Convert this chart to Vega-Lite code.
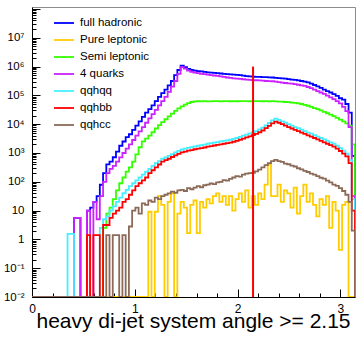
{
  "$schema": "https://vega.github.io/schema/vega-lite/v6.json",
  "width": 323,
  "height": 290,
  "autosize": {"type": "none"},
  "padding": {"left": 32, "top": 7, "right": 2, "bottom": 40},
  "background": "white",
  "config": {
    "view": {"stroke": "#8c8c8c", "strokeWidth": 1},
    "font": "Liberation Sans",
    "axis": {"grid": false, "labelFont": "Liberation Sans", "titleFont": "Liberation Sans", "labelColor": "black", "titleColor": "black"},
    "legend": {"labelFont": "Liberation Sans", "labelColor": "black"}
  },
  "data": {
    "values": [
      {"x": 0, "full hadronic": 0.01, "Pure leptonic": 0.01, "Semi leptonic": 0.01, "4 quarks": 0.01, "qqhqq": 0.01, "qqhbb": 0.01, "qqhcc": 0.01},
      {"x": 0.0314, "full hadronic": 0.01, "Pure leptonic": 0.01, "Semi leptonic": 0.01, "4 quarks": 0.01, "qqhqq": 0.01, "qqhbb": 0.01, "qqhcc": 0.01},
      {"x": 0.0628, "full hadronic": 0.01, "Pure leptonic": 0.01, "Semi leptonic": 0.01, "4 quarks": 0.01, "qqhqq": 0.01, "qqhbb": 0.01, "qqhcc": 0.01},
      {"x": 0.0942, "full hadronic": 0.01, "Pure leptonic": 0.01, "Semi leptonic": 0.01, "4 quarks": 0.01, "qqhqq": 0.01, "qqhbb": 0.01, "qqhcc": 0.01},
      {"x": 0.1257, "full hadronic": 0.01, "Pure leptonic": 0.01, "Semi leptonic": 0.01, "4 quarks": 0.01, "qqhqq": 0.01, "qqhbb": 0.01, "qqhcc": 0.01},
      {"x": 0.1571, "full hadronic": 0.01, "Pure leptonic": 0.01, "Semi leptonic": 0.01, "4 quarks": 0.01, "qqhqq": 0.01, "qqhbb": 0.01, "qqhcc": 0.01},
      {"x": 0.1885, "full hadronic": 0.01, "Pure leptonic": 0.01, "Semi leptonic": 0.01, "4 quarks": 0.01, "qqhqq": 0.01, "qqhbb": 0.01, "qqhcc": 0.01},
      {"x": 0.2199, "full hadronic": 0.01, "Pure leptonic": 0.01, "Semi leptonic": 0.01, "4 quarks": 0.01, "qqhqq": 0.01, "qqhbb": 0.01, "qqhcc": 0.01},
      {"x": 0.2513, "full hadronic": 0.01, "Pure leptonic": 0.01, "Semi leptonic": 0.01, "4 quarks": 0.01, "qqhqq": 0.01, "qqhbb": 0.01, "qqhcc": 0.01},
      {"x": 0.2827, "full hadronic": 0.01, "Pure leptonic": 0.01, "Semi leptonic": 0.01, "4 quarks": 0.01, "qqhqq": 0.01, "qqhbb": 0.01, "qqhcc": 0.01},
      {"x": 0.3142, "full hadronic": 0.01, "Pure leptonic": 0.01, "Semi leptonic": 0.01, "4 quarks": 0.01, "qqhqq": 0.01, "qqhbb": 0.01, "qqhcc": 0.01},
      {"x": 0.3456, "full hadronic": 0.01, "Pure leptonic": 0.01, "Semi leptonic": 0.01, "4 quarks": 0.01, "qqhqq": 1.55, "qqhbb": 0.01, "qqhcc": 0.01},
      {"x": 0.377, "full hadronic": 0.01, "Pure leptonic": 0.01, "Semi leptonic": 0.01, "4 quarks": 0.01, "qqhqq": 1.55, "qqhbb": 0.01, "qqhcc": 0.01},
      {"x": 0.4084, "full hadronic": 5.6, "Pure leptonic": 0.01, "Semi leptonic": 0.01, "4 quarks": 5.6, "qqhqq": 0.01, "qqhbb": 0.01, "qqhcc": 0.01},
      {"x": 0.4398, "full hadronic": 5.6, "Pure leptonic": 0.01, "Semi leptonic": 0.01, "4 quarks": 5.6, "qqhqq": 0.01, "qqhbb": 0.01, "qqhcc": 0.01},
      {"x": 0.4712, "full hadronic": 0.01, "Pure leptonic": 0.01, "Semi leptonic": 0.01, "4 quarks": 0.01, "qqhqq": 0.01, "qqhbb": 0.01, "qqhcc": 0.01},
      {"x": 0.5027, "full hadronic": 0.01, "Pure leptonic": 0.01, "Semi leptonic": 0.01, "4 quarks": 0.01, "qqhqq": 0.01, "qqhbb": 0.01, "qqhcc": 0.01},
      {"x": 0.5341, "full hadronic": 10, "Pure leptonic": 0.01, "Semi leptonic": 0.01, "4 quarks": 10, "qqhqq": 0.01, "qqhbb": 1.41, "qqhcc": 0.01},
      {"x": 0.5655, "full hadronic": 12.6, "Pure leptonic": 0.01, "Semi leptonic": 0.01, "4 quarks": 0.01, "qqhqq": 0.01, "qqhbb": 0.01, "qqhcc": 0.01},
      {"x": 0.5969, "full hadronic": 20, "Pure leptonic": 0.01, "Semi leptonic": 0.01, "4 quarks": 20, "qqhqq": 0.01, "qqhbb": 1.41, "qqhcc": 0.01},
      {"x": 0.6283, "full hadronic": 32, "Pure leptonic": 0.01, "Semi leptonic": 0.01, "4 quarks": 5, "qqhqq": 0.01, "qqhbb": 1.41, "qqhcc": 0.01},
      {"x": 0.6597, "full hadronic": 79, "Pure leptonic": 0.01, "Semi leptonic": 0.01, "4 quarks": 32, "qqhqq": 2.5, "qqhbb": 0.01, "qqhcc": 0.01},
      {"x": 0.6912, "full hadronic": 200, "Pure leptonic": 0.01, "Semi leptonic": 2.5, "4 quarks": 100, "qqhqq": 5, "qqhbb": 3.16, "qqhcc": 0.01},
      {"x": 0.7226, "full hadronic": 400, "Pure leptonic": 0.01, "Semi leptonic": 7.9, "4 quarks": 200, "qqhqq": 6.3, "qqhbb": 3.16, "qqhcc": 1.41},
      {"x": 0.754, "full hadronic": 500, "Pure leptonic": 0.01, "Semi leptonic": 12.6, "4 quarks": 282, "qqhqq": 10, "qqhbb": 5.6, "qqhcc": 0.01},
      {"x": 0.7854, "full hadronic": 710, "Pure leptonic": 0.01, "Semi leptonic": 25, "4 quarks": 355, "qqhqq": 14, "qqhbb": 7.9, "qqhcc": 1.41},
      {"x": 0.8168, "full hadronic": 1120, "Pure leptonic": 0.01, "Semi leptonic": 50, "4 quarks": 501, "qqhqq": 20, "qqhbb": 10, "qqhcc": 1.41},
      {"x": 0.8482, "full hadronic": 1780, "Pure leptonic": 0.01, "Semi leptonic": 89, "4 quarks": 708, "qqhqq": 28, "qqhbb": 12.6, "qqhcc": 0.01},
      {"x": 0.8796, "full hadronic": 2500, "Pure leptonic": 0.01, "Semi leptonic": 141, "4 quarks": 1000, "qqhqq": 40, "qqhbb": 20, "qqhcc": 1.41},
      {"x": 0.9111, "full hadronic": 3550, "Pure leptonic": 0.01, "Semi leptonic": 224, "4 quarks": 1410, "qqhqq": 52, "qqhbb": 25, "qqhcc": 0.01},
      {"x": 0.9425, "full hadronic": 4470, "Pure leptonic": 0.01, "Semi leptonic": 316, "4 quarks": 2000, "qqhqq": 71, "qqhbb": 35.5, "qqhcc": 2.8},
      {"x": 0.9739, "full hadronic": 6300, "Pure leptonic": 0.01, "Semi leptonic": 501, "4 quarks": 2820, "qqhqq": 89, "qqhbb": 50, "qqhcc": 10},
      {"x": 1.0053, "full hadronic": 8900, "Pure leptonic": 0.01, "Semi leptonic": 891, "4 quarks": 3980, "qqhqq": 112, "qqhbb": 71, "qqhcc": 12.6},
      {"x": 1.0367, "full hadronic": 12600, "Pure leptonic": 0.01, "Semi leptonic": 1580, "4 quarks": 5620, "qqhqq": 141, "qqhbb": 89, "qqhcc": 7.9},
      {"x": 1.0681, "full hadronic": 17800, "Pure leptonic": 0.01, "Semi leptonic": 2510, "4 quarks": 7940, "qqhqq": 178, "qqhbb": 112, "qqhcc": 17.8},
      {"x": 1.0996, "full hadronic": 25100, "Pure leptonic": 0.01, "Semi leptonic": 3160, "4 quarks": 11200, "qqhqq": 224, "qqhbb": 141, "qqhcc": 15.8},
      {"x": 1.131, "full hadronic": 33100, "Pure leptonic": 9.1, "Semi leptonic": 3980, "4 quarks": 15800, "qqhqq": 282, "qqhbb": 200, "qqhcc": 22.4},
      {"x": 1.1624, "full hadronic": 44700, "Pure leptonic": 0.01, "Semi leptonic": 5250, "4 quarks": 22400, "qqhqq": 355, "qqhbb": 251, "qqhcc": 20},
      {"x": 1.1938, "full hadronic": 63100, "Pure leptonic": 9.1, "Semi leptonic": 7080, "4 quarks": 31600, "qqhqq": 447, "qqhbb": 316, "qqhcc": 28.2},
      {"x": 1.2252, "full hadronic": 89100, "Pure leptonic": 31.6, "Semi leptonic": 9330, "4 quarks": 44700, "qqhqq": 525, "qqhbb": 398, "qqhcc": 25.1},
      {"x": 1.2566, "full hadronic": 120000, "Pure leptonic": 15.8, "Semi leptonic": 11700, "4 quarks": 63100, "qqhqq": 631, "qqhbb": 501, "qqhcc": 31.6},
      {"x": 1.2881, "full hadronic": 158000, "Pure leptonic": 0.01, "Semi leptonic": 14800, "4 quarks": 89100, "qqhqq": 708, "qqhbb": 562, "qqhcc": 35.5},
      {"x": 1.3195, "full hadronic": 224000, "Pure leptonic": 20, "Semi leptonic": 18600, "4 quarks": 132000, "qqhqq": 794, "qqhbb": 631, "qqhcc": 39.8},
      {"x": 1.3509, "full hadronic": 316000, "Pure leptonic": 39.8, "Semi leptonic": 23400, "4 quarks": 200000, "qqhqq": 912, "qqhbb": 724, "qqhcc": 45.7},
      {"x": 1.3823, "full hadronic": 501000, "Pure leptonic": 0.01, "Semi leptonic": 28800, "4 quarks": 316000, "qqhqq": 1050, "qqhbb": 832, "qqhcc": 41.7},
      {"x": 1.4137, "full hadronic": 759000, "Pure leptonic": 7.9, "Semi leptonic": 35500, "4 quarks": 562000, "qqhqq": 1180, "qqhbb": 933, "qqhcc": 50.1},
      {"x": 1.4451, "full hadronic": 1070000, "Pure leptonic": 20, "Semi leptonic": 41700, "4 quarks": 955000, "qqhqq": 1320, "qqhbb": 1050, "qqhcc": 52.5},
      {"x": 1.4765, "full hadronic": 955000, "Pure leptonic": 12.6, "Semi leptonic": 47900, "4 quarks": 851000, "qqhqq": 1410, "qqhbb": 1120, "qqhcc": 47.9},
      {"x": 1.508, "full hadronic": 832000, "Pure leptonic": 1.66, "Semi leptonic": 53700, "4 quarks": 724000, "qqhqq": 1510, "qqhbb": 1200, "qqhcc": 60.3},
      {"x": 1.5394, "full hadronic": 759000, "Pure leptonic": 15.8, "Semi leptonic": 58900, "4 quarks": 661000, "qqhqq": 1590, "qqhbb": 1260, "qqhcc": 55},
      {"x": 1.5708, "full hadronic": 724000, "Pure leptonic": 22.4, "Semi leptonic": 61700, "4 quarks": 617000, "qqhqq": 1700, "qqhbb": 1350, "qqhcc": 63.1},
      {"x": 1.6022, "full hadronic": 700000, "Pure leptonic": 1.66, "Semi leptonic": 62500, "4 quarks": 589000, "qqhqq": 1780, "qqhbb": 1410, "qqhcc": 70.8},
      {"x": 1.6336, "full hadronic": 676000, "Pure leptonic": 20, "Semi leptonic": 62000, "4 quarks": 562000, "qqhqq": 1860, "qqhbb": 1480, "qqhcc": 64.6},
      {"x": 1.665, "full hadronic": 653000, "Pure leptonic": 12.6, "Semi leptonic": 63000, "4 quarks": 543000, "qqhqq": 1950, "qqhbb": 1550, "qqhcc": 75.9},
      {"x": 1.6965, "full hadronic": 631000, "Pure leptonic": 25.1, "Semi leptonic": 62300, "4 quarks": 525000, "qqhqq": 2090, "qqhbb": 1660, "qqhcc": 79.4},
      {"x": 1.7279, "full hadronic": 617000, "Pure leptonic": 17.8, "Semi leptonic": 61800, "4 quarks": 507000, "qqhqq": 2190, "qqhbb": 1740, "qqhcc": 87.1},
      {"x": 1.7593, "full hadronic": 603000, "Pure leptonic": 31.6, "Semi leptonic": 62700, "4 quarks": 490000, "qqhqq": 2290, "qqhbb": 1820, "qqhcc": 83.2},
      {"x": 1.7907, "full hadronic": 589000, "Pure leptonic": 39.8, "Semi leptonic": 63100, "4 quarks": 473000, "qqhqq": 2400, "qqhbb": 1910, "qqhcc": 95.5},
      {"x": 1.8221, "full hadronic": 575000, "Pure leptonic": 20, "Semi leptonic": 62200, "4 quarks": 457000, "qqhqq": 2520, "qqhbb": 2000, "qqhcc": 100},
      {"x": 1.8535, "full hadronic": 562000, "Pure leptonic": 31.6, "Semi leptonic": 62800, "4 quarks": 437000, "qqhqq": 2630, "qqhbb": 2090, "qqhcc": 115},
      {"x": 1.885, "full hadronic": 550000, "Pure leptonic": 15.8, "Semi leptonic": 63300, "4 quarks": 417000, "qqhqq": 2760, "qqhbb": 2190, "qqhcc": 110},
      {"x": 1.9164, "full hadronic": 537000, "Pure leptonic": 31.6, "Semi leptonic": 62600, "4 quarks": 403000, "qqhqq": 2880, "qqhbb": 2290, "qqhcc": 126},
      {"x": 1.9478, "full hadronic": 525000, "Pure leptonic": 10, "Semi leptonic": 63000, "4 quarks": 389000, "qqhqq": 3090, "qqhbb": 2450, "qqhcc": 141},
      {"x": 1.9792, "full hadronic": 513000, "Pure leptonic": 25.1, "Semi leptonic": 62400, "4 quarks": 380000, "qqhqq": 3310, "qqhbb": 2630, "qqhcc": 158},
      {"x": 2.0106, "full hadronic": 501000, "Pure leptonic": 39.8, "Semi leptonic": 63500, "4 quarks": 372000, "qqhqq": 3630, "qqhbb": 2880, "qqhcc": 151},
      {"x": 2.042, "full hadronic": 484000, "Pure leptonic": 20, "Semi leptonic": 62900, "4 quarks": 363000, "qqhqq": 3980, "qqhbb": 3160, "qqhcc": 178},
      {"x": 2.0735, "full hadronic": 468000, "Pure leptonic": 50.1, "Semi leptonic": 63200, "4 quarks": 355000, "qqhqq": 4370, "qqhbb": 3470, "qqhcc": 191},
      {"x": 2.1049, "full hadronic": 457000, "Pure leptonic": 12.6, "Semi leptonic": 62600, "4 quarks": 347000, "qqhqq": 4790, "qqhbb": 3800, "qqhcc": 200},
      {"x": 2.1363, "full hadronic": 447000, "Pure leptonic": 31.6, "Semi leptonic": 63400, "4 quarks": 339000, "qqhqq": 5250, "qqhbb": 4170, "qqhcc": 204},
      {"x": 2.1677, "full hadronic": 442000, "Pure leptonic": 15.8, "Semi leptonic": 62800, "4 quarks": 335000, "qqhqq": 5750, "qqhbb": 4570, "qqhcc": 229},
      {"x": 2.1991, "full hadronic": 437000, "Pure leptonic": 39.8, "Semi leptonic": 63000, "4 quarks": 331000, "qqhqq": 6610, "qqhbb": 5250, "qqhcc": 263},
      {"x": 2.2305, "full hadronic": 432000, "Pure leptonic": 25.1, "Semi leptonic": 62500, "4 quarks": 324000, "qqhqq": 7590, "qqhbb": 6030, "qqhcc": 316},
      {"x": 2.2619, "full hadronic": 427000, "Pure leptonic": 79.4, "Semi leptonic": 62900, "4 quarks": 316000, "qqhqq": 9120, "qqhbb": 7240, "qqhcc": 380},
      {"x": 2.2934, "full hadronic": 422000, "Pure leptonic": 398, "Semi leptonic": 62300, "4 quarks": 313000, "qqhqq": 11000, "qqhbb": 8710, "qqhcc": 447},
      {"x": 2.3248, "full hadronic": 417000, "Pure leptonic": 31.6, "Semi leptonic": 62700, "4 quarks": 309000, "qqhqq": 13500, "qqhbb": 10700, "qqhcc": 525},
      {"x": 2.3562, "full hadronic": 407000, "Pure leptonic": 31.6, "Semi leptonic": 62000, "4 quarks": 299000, "qqhqq": 15500, "qqhbb": 12300, "qqhcc": 575},
      {"x": 2.3876, "full hadronic": 398000, "Pure leptonic": 79.4, "Semi leptonic": 61000, "4 quarks": 288000, "qqhqq": 14100, "qqhbb": 11200, "qqhcc": 525},
      {"x": 2.419, "full hadronic": 389000, "Pure leptonic": 20, "Semi leptonic": 60300, "4 quarks": 279000, "qqhqq": 12600, "qqhbb": 10000, "qqhcc": 490},
      {"x": 2.4504, "full hadronic": 380000, "Pure leptonic": 50.1, "Semi leptonic": 58900, "4 quarks": 269000, "qqhqq": 11200, "qqhbb": 8910, "qqhcc": 427},
      {"x": 2.4819, "full hadronic": 367000, "Pure leptonic": 39.8, "Semi leptonic": 58200, "4 quarks": 263000, "qqhqq": 10000, "qqhbb": 7940, "qqhcc": 407},
      {"x": 2.5133, "full hadronic": 355000, "Pure leptonic": 12.6, "Semi leptonic": 56200, "4 quarks": 257000, "qqhqq": 8910, "qqhbb": 7080, "qqhcc": 363},
      {"x": 2.5447, "full hadronic": 343000, "Pure leptonic": 63.1, "Semi leptonic": 55000, "4 quarks": 245000, "qqhqq": 7940, "qqhbb": 6310, "qqhcc": 339},
      {"x": 2.5761, "full hadronic": 331000, "Pure leptonic": 7.9, "Semi leptonic": 52500, "4 quarks": 234000, "qqhqq": 7240, "qqhbb": 5750, "qqhcc": 295},
      {"x": 2.6075, "full hadronic": 316000, "Pure leptonic": 31.6, "Semi leptonic": 50100, "4 quarks": 224000, "qqhqq": 6460, "qqhbb": 5130, "qqhcc": 269},
      {"x": 2.6389, "full hadronic": 302000, "Pure leptonic": 79.4, "Semi leptonic": 46800, "4 quarks": 214000, "qqhqq": 5750, "qqhbb": 4570, "qqhcc": 240},
      {"x": 2.6704, "full hadronic": 282000, "Pure leptonic": 20, "Semi leptonic": 43700, "4 quarks": 195000, "qqhqq": 5130, "qqhbb": 4070, "qqhcc": 219},
      {"x": 2.7018, "full hadronic": 257000, "Pure leptonic": 39.8, "Semi leptonic": 39800, "4 quarks": 178000, "qqhqq": 4680, "qqhbb": 3720, "qqhcc": 191},
      {"x": 2.7332, "full hadronic": 229000, "Pure leptonic": 15.8, "Semi leptonic": 36300, "4 quarks": 158000, "qqhqq": 4170, "qqhbb": 3310, "qqhcc": 178},
      {"x": 2.7646, "full hadronic": 204000, "Pure leptonic": 6.3, "Semi leptonic": 33100, "4 quarks": 141000, "qqhqq": 3720, "qqhbb": 2950, "qqhcc": 158},
      {"x": 2.796, "full hadronic": 182000, "Pure leptonic": 25.1, "Semi leptonic": 30200, "4 quarks": 126000, "qqhqq": 3310, "qqhbb": 2630, "qqhcc": 138},
      {"x": 2.8274, "full hadronic": 158000, "Pure leptonic": 15.8, "Semi leptonic": 26900, "4 quarks": 112000, "qqhqq": 2950, "qqhbb": 2340, "qqhcc": 129},
      {"x": 2.8588, "full hadronic": 141000, "Pure leptonic": 31.6, "Semi leptonic": 24000, "4 quarks": 97700, "qqhqq": 2630, "qqhbb": 2090, "qqhcc": 110},
      {"x": 2.8903, "full hadronic": 126000, "Pure leptonic": 2.5, "Semi leptonic": 21400, "4 quarks": 85100, "qqhqq": 2340, "qqhbb": 1860, "qqhcc": 95.5},
      {"x": 2.9217, "full hadronic": 110000, "Pure leptonic": 20, "Semi leptonic": 19100, "4 quarks": 74100, "qqhqq": 2090, "qqhbb": 1660, "qqhcc": 79.4},
      {"x": 2.9531, "full hadronic": 95500, "Pure leptonic": 10, "Semi leptonic": 16600, "4 quarks": 63100, "qqhqq": 1780, "qqhbb": 1410, "qqhcc": 72.4},
      {"x": 2.9845, "full hadronic": 79400, "Pure leptonic": 0.43, "Semi leptonic": 14500, "4 quarks": 52500, "qqhqq": 1470, "qqhbb": 1170, "qqhcc": 60.3},
      {"x": 3.0159, "full hadronic": 70800, "Pure leptonic": 15.8, "Semi leptonic": 12600, "4 quarks": 39800, "qqhqq": 1200, "qqhbb": 955, "qqhcc": 47.9},
      {"x": 3.0473, "full hadronic": 50100, "Pure leptonic": 20, "Semi leptonic": 10700, "4 quarks": 28200, "qqhqq": 955, "qqhbb": 759, "qqhcc": 35.5},
      {"x": 3.0788, "full hadronic": 25100, "Pure leptonic": 0.01, "Semi leptonic": 8910, "4 quarks": 7940, "qqhqq": 562, "qqhbb": 447, "qqhcc": 20},
      {"x": 3.1102, "full hadronic": 794, "Pure leptonic": 0.01, "Semi leptonic": 2000, "4 quarks": 32, "qqhqq": 25, "qqhbb": 10, "qqhcc": 2},
      {"x": 3.1416, "full hadronic": 0.01, "Pure leptonic": 0.01, "Semi leptonic": 0.01, "4 quarks": 0.01, "qqhqq": 0.01, "qqhbb": 0.01, "qqhcc": 0.01}
    ]
  },
  "resolve": {"axis": {"x": "independent", "y": "independent"}},
  "layer": [
    {
      "transform": [
        {"fold": ["full hadronic", "Pure leptonic", "Semi leptonic", "4 quarks"], "as": ["series", "n"]}
      ],
      "mark": {"type": "line", "interpolate": "step-after", "clip": true},
      "encoding": {
        "x": {
          "field": "x", "type": "quantitative",
          "scale": {"domain": [0, 3.1416], "nice": false, "zero": false},
          "axis": {
            "orient": "bottom", "values": [0, 1, 2, 3], "format": "d",
            "ticks": false, "domain": true, "domainColor": "black",
            "labelFontSize": 12, "labelPadding": 6, "labelFlush": false,
            "title": "heavy di-jet system angle >= 2.15", "titleFontSize": 21, "titleFontWeight": "normal",
            "titleAnchor": "end", "titleAlign": "right", "titleX": 318, "titleY": 30, "titleBaseline": "alphabetic"
          }
        },
        "y": {
          "field": "n", "type": "quantitative",
          "scale": {"type": "log", "domain": [0.01, 117000000], "nice": false},
          "axis": {
            "orient": "left", "values": [0.01, 0.1, 1, 10, 100, 1000, 10000, 100000, 1000000, 10000000],
            "labelExpr": "['10⁻²','10⁻¹','1','10','10²','10³','10⁴','10⁵','10⁶','10⁷'][round(log(datum.value)/LN10)+2]",
            "ticks": false, "domain": true, "domainColor": "black",
            "labelFontSize": 11.5, "labelPadding": 8, "labelOverlap": false, "title": null
          }
        },
        "color": {
          "field": "series", "type": "nominal",
          "scale": {
            "domain": ["full hadronic", "Pure leptonic", "Semi leptonic", "4 quarks", "qqhqq", "qqhbb", "qqhcc"],
            "range": ["#0000ff", "#ffcc00", "#33ff00", "#cc22ff", "#44f0ff", "#ff0000", "#8b6b58"]
          },
          "legend": {
            "orient": "none", "legendX": 21, "legendY": 5, "title": null, "padding": 0,
            "symbolType": "stroke", "symbolSize": 400, "labelFontSize": 11.5, "labelOffset": 5, "rowPadding": -1.5,
            "encode": {"symbols": {
              "enter": {"strokeWidth": {"signal": "datum.value === 'qqhqq' ? 5 : 1.8"}},
              "update": {"strokeWidth": {"signal": "datum.value === 'qqhqq' ? 5 : 1.8"}}
            }}
          }
        },
        "strokeWidth": {
          "field": "series", "type": "nominal",
          "scale": {
            "domain": ["full hadronic", "Pure leptonic", "Semi leptonic", "4 quarks", "qqhqq", "qqhbb", "qqhcc"],
            "range": [1.8, 1.8, 1.8, 1.8, 5, 1.8, 1.8]
          },
          "legend": null
        }
      }
    },
    {
      "transform": [
        {"fold": ["qqhqq", "qqhbb", "qqhcc"], "as": ["series", "n"]}
      ],
      "mark": {"type": "line", "interpolate": "step-after", "clip": true},
      "encoding": {
        "x": {
          "field": "x", "type": "quantitative",
          "scale": {"domain": [0, 3.1416], "nice": false, "zero": false},
          "axis": {"orient": "bottom", "values": [0, 1, 2, 3], "labels": false, "domain": false, "tickSize": -8, "tickColor": "black", "title": null}
        },
        "y": {
          "field": "n", "type": "quantitative",
          "scale": {"type": "log", "domain": [0.01, 117000000], "nice": false},
          "axis": {"orient": "left", "values": [0.01, 0.1, 1, 10, 100, 1000, 10000, 100000, 1000000, 10000000, 100000000], "labels": false, "domain": false, "tickSize": -8, "tickColor": "black", "title": null}
        },
        "color": {"field": "series", "type": "nominal"},
        "strokeWidth": {"field": "series", "type": "nominal", "legend": null}
      }
    },
    {
      "data": {"values": [{"cut": 2.15, "lo": 0.01, "hi": 1000000}]},
      "mark": {"type": "rule", "color": "#ff0000", "strokeWidth": 2},
      "encoding": {
        "x": {
          "field": "cut", "type": "quantitative",
          "scale": {"domain": [0, 3.1416], "nice": false, "zero": false},
          "axis": {"orient": "bottom", "values": [0.2, 0.4, 0.6, 0.8, 1.2, 1.4, 1.6, 1.8, 2.2, 2.4, 2.6, 2.8], "labels": false, "domain": false, "tickSize": -4, "tickColor": "black", "title": null}
        },
        "y": {
          "field": "lo", "type": "quantitative",
          "scale": {"type": "log", "domain": [0.01, 117000000], "nice": false},
          "axis": {
            "orient": "left",
            "values": [0.02, 0.03, 0.04, 0.05, 0.06, 0.07, 0.08, 0.09, 0.2, 0.3, 0.4, 0.5, 0.6, 0.7, 0.8, 0.9, 2, 3, 4, 5, 6, 7, 8, 9, 20, 30, 40, 50, 60, 70, 80, 90, 200, 300, 400, 500, 600, 700, 800, 900, 2000, 3000, 4000, 5000, 6000, 7000, 8000, 9000, 20000, 30000, 40000, 50000, 60000, 70000, 80000, 90000, 200000, 300000, 400000, 500000, 600000, 700000, 800000, 900000, 2000000, 3000000, 4000000, 5000000, 6000000, 7000000, 8000000, 9000000, 20000000, 30000000, 40000000, 50000000, 60000000, 70000000, 80000000, 90000000],
            "labels": false, "domain": false, "tickSize": -4, "tickColor": "black", "title": null
          }
        },
        "y2": {"field": "hi"}
      }
    }
  ]
}
